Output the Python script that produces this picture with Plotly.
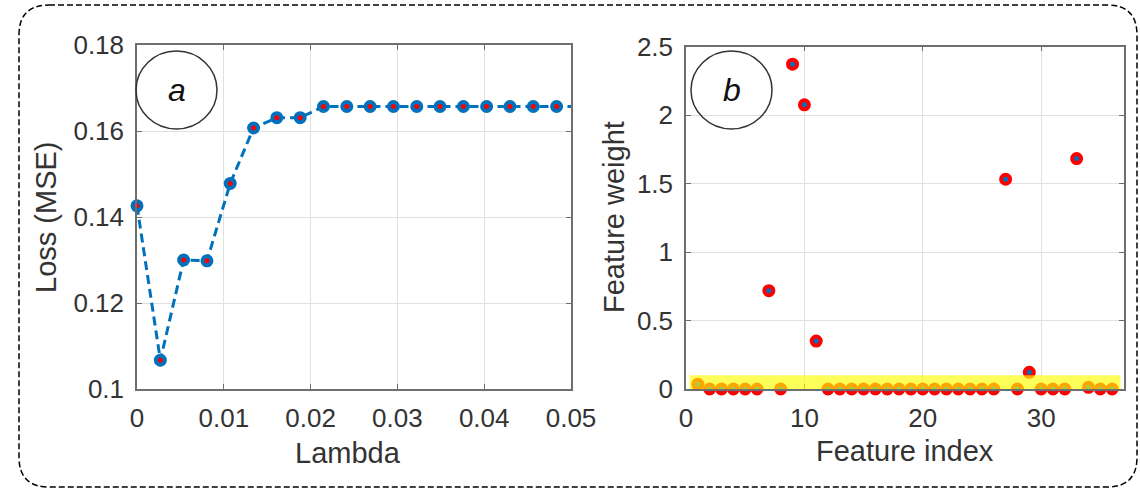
import plotly.graph_objects as go

# ---------------- data ----------------
lambda_vals = [0.0, 0.00269, 0.00537, 0.00806, 0.01074, 0.01343, 0.01611, 0.0188,
               0.02148, 0.02417, 0.02686, 0.02954, 0.03223, 0.03491, 0.0376,
               0.04028, 0.04297, 0.04565, 0.04834, 0.05102]
loss_vals = [0.1426, 0.1067, 0.1300, 0.1298, 0.1478, 0.1607, 0.1631, 0.1631,
             0.1657, 0.1657, 0.1657, 0.1657, 0.1657, 0.1657, 0.1657,
             0.1657, 0.1657, 0.1657, 0.1657, 0.1657]

feature_index = list(range(1, 37))
feature_weight = [0.035, 0, 0, 0, 0, 0, 0.718, 0, 2.371, 2.074, 0.35, 0,
                  0, 0, 0, 0, 0, 0, 0, 0, 0, 0, 0, 0, 0, 0,
                  1.531, 0, 0.122, 0, 0, 0, 1.682, 0.012, 0, 0]

a_xticks = [0, 0.01, 0.02, 0.03, 0.04, 0.05]
a_xlabels = ["0", "0.01", "0.02", "0.03", "0.04", "0.05"]
a_yticks = [0.1, 0.12, 0.14, 0.16, 0.18]
a_ylabels = ["0.1", "0.12", "0.14", "0.16", "0.18"]
b_xticks = [0, 10, 20, 30]
b_xlabels = ["0", "10", "20", "30"]
b_yticks = [0, 0.5, 1, 1.5, 2, 2.5]
b_ylabels = ["0", "0.5", "1", "1.5", "2", "2.5"]

# ---------------- layout helpers ----------------
W, H = 1140, 492
def PX(x): return x / W
def PY(y): return 1 - y / H

BLUE = "#0072BD"
RED = "#FF0000"
TXT = "#333333"
FONT = "Liberation Sans, Arial, sans-serif"

fig = go.Figure()

# panel a: dashed line (clipped) + markers
fig.add_trace(go.Scatter(x=lambda_vals, y=loss_vals, mode="lines",
                         line=dict(color=BLUE, width=3, dash="9px,5px"),
                         xaxis="x", yaxis="y", hoverinfo="skip", showlegend=False))
mk_x = [v for v in lambda_vals if v <= 0.05]
mk_y = [loss_vals[i] for i, v in enumerate(lambda_vals) if v <= 0.05]
fig.add_trace(go.Scatter(x=mk_x, y=mk_y, mode="markers",
                         marker=dict(size=9, color=RED, line=dict(color=BLUE, width=4)),
                         cliponaxis=False, xaxis="x", yaxis="y", showlegend=False))

# panel b: scatter
fig.add_trace(go.Scatter(x=feature_index, y=feature_weight, mode="markers",
                         marker=dict(size=9, color=BLUE, line=dict(color=RED, width=4)),
                         cliponaxis=False, xaxis="x2", yaxis="y2", showlegend=False))

axis_common = dict(showgrid=True, gridcolor="#e0e0e0", gridwidth=1,
                   showline=True, linecolor="#6e6e6e", linewidth=1.5, mirror="ticks",
                   ticks="inside", ticklen=5, tickcolor="#6e6e6e", zeroline=False,
                   tickfont=dict(family=FONT, size=26, color=TXT), automargin=False)

fig.update_layout(
    width=W, height=H,
    margin=dict(l=0, r=0, t=0, b=0),
    paper_bgcolor="white", plot_bgcolor="white",
    xaxis=dict(domain=[PX(137), PX(571)], range=[0, 0.05], anchor="y",
               tickvals=a_xticks, ticktext=a_xlabels, ticklabelstandoff=5, **axis_common),
    yaxis=dict(domain=[PY(389), PY(45)], range=[0.1, 0.18], anchor="x",
               tickvals=a_yticks, ticktext=a_ylabels, ticklabelstandoff=6, **axis_common),
    xaxis2=dict(domain=[PX(686), PX(1124)], range=[0, 37], anchor="y2",
                tickvals=b_xticks, ticktext=b_xlabels, ticklabelstandoff=5, **axis_common),
    yaxis2=dict(domain=[PY(389), PY(46.5)], range=[0, 2.5], anchor="x2",
                tickvals=b_yticks, ticktext=b_ylabels, ticklabelstandoff=6, **axis_common),
)

# axis titles
title_font = dict(family=FONT, size=29, color=TXT)
fig.add_annotation(text="Lambda", x=PX(348), y=PY(453), xref="paper", yref="paper",
                   showarrow=False, font=title_font, xanchor="center", yanchor="middle")
fig.add_annotation(text="Feature index", x=PX(905), y=PY(451), xref="paper", yref="paper",
                   showarrow=False, font=title_font, xanchor="center", yanchor="middle")
fig.add_annotation(text="Loss (MSE)", x=PX(46), y=PY(218), xref="paper", yref="paper",
                   showarrow=False, font=title_font, textangle=-90,
                   xanchor="center", yanchor="middle")
fig.add_annotation(text="Feature weight", x=PX(614), y=PY(217), xref="paper", yref="paper",
                   showarrow=False, font=title_font, textangle=-90,
                   xanchor="center", yanchor="middle")

# yellow band (semi-transparent, above markers)
fig.add_shape(type="rect", xref="x2", yref="y2", x0=0.3, x1=36.7, y0=0, y1=0.1,
              fillcolor="#FFFF00", opacity=0.65, line=dict(width=0), layer="above")

# circle labels
for (cx0, cx1, lab) in [(136, 217, "a"), (691, 772, "b")]:
    fig.add_shape(type="circle", xref="paper", yref="paper",
                  x0=PX(cx0), x1=PX(cx1), y0=PY(129), y1=PY(51),
                  line=dict(color="#333333", width=1.5), layer="above")
    fig.add_annotation(text="<i>%s</i>" % lab, x=PX((cx0 + cx1) / 2), y=PY(90),
                       xref="paper", yref="paper", showarrow=False,
                       font=dict(family=FONT, size=32, color="#111111"),
                       xanchor="center", yanchor="middle")

# outer dashed rounded rectangle
L, R, T, B, r = 19, 1137, 5, 487, 30
path = (f"M {PX(L + r)},{PY(T)} L {PX(R - r)},{PY(T)} Q {PX(R)},{PY(T)} {PX(R)},{PY(T + r)} "
        f"L {PX(R)},{PY(B - r)} Q {PX(R)},{PY(B)} {PX(R - r)},{PY(B)} "
        f"L {PX(L + r)},{PY(B)} Q {PX(L)},{PY(B)} {PX(L)},{PY(B - r)} "
        f"L {PX(L)},{PY(T + r)} Q {PX(L)},{PY(T)} {PX(L + r)},{PY(T)} Z")
fig.add_shape(type="path", path=path, xref="paper", yref="paper",
              line=dict(color="black", width=1.5, dash="6px,3px"), layer="above")

fig.write_html("out.html")
